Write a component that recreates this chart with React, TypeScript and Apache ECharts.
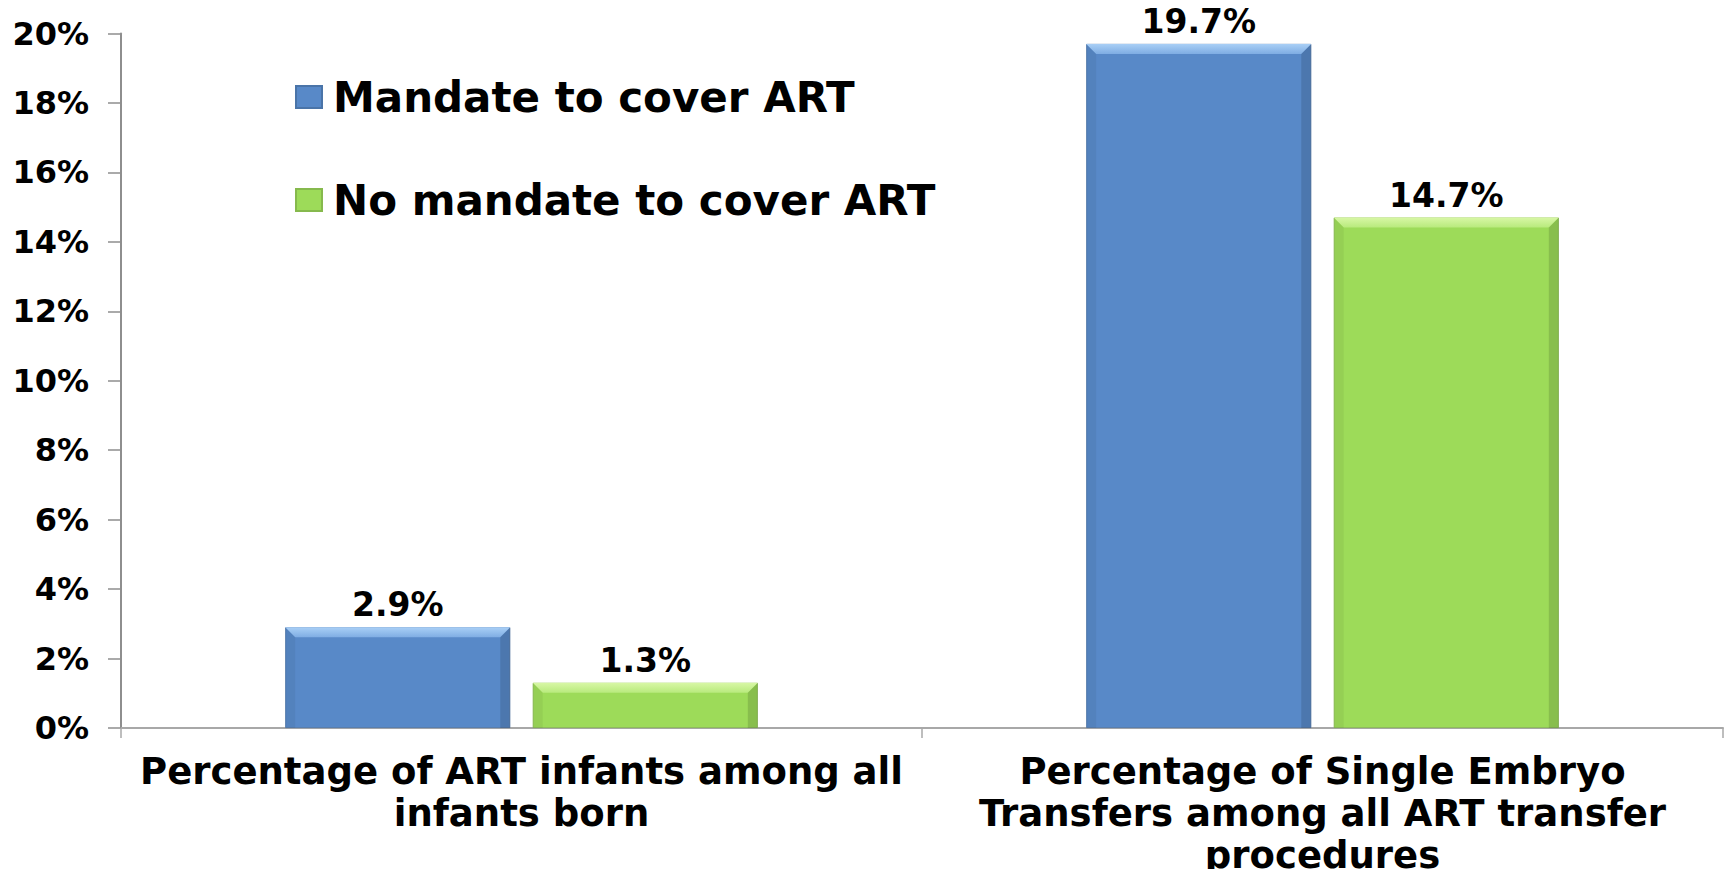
import React, { useEffect, useRef } from "react";
import * as echarts from "echarts";

const categories = [
  "Percentage of ART infants among all\ninfants born",
  "Percentage of Single Embryo\nTransfers among all ART transfer\nprocedures",
];
const seriesNames = ["Mandate to cover ART", "No mandate to cover ART"];
const mandateValues = [2.9, 19.7];
const noMandateValues = [1.3, 14.7];
const yTicks = [0, 2, 4, 6, 8, 10, 12, 14, 16, 18, 20];

const FONT = "'DejaVu Sans', sans-serif";
const CAT_GAP = 0.41;
const BAR_GAP = 0.1;

const mainColors = ["#5889C8", "#9DDB59"];
const topColors = [
  ["#A9CFF6", "#7FADE3"],
  ["#D8F7A6", "#B8EA7C"],
];

export default function App() {
  const ref = useRef<HTMLDivElement>(null);

  useEffect(() => {
    if (!ref.current) return;
    const chart = echarts.init(ref.current, undefined, { renderer: "svg" });

    const bevelData: number[][] = [];
    mandateValues.forEach((v, i) => bevelData.push([i, v, 0]));
    noMandateValues.forEach((v, i) => bevelData.push([i, v, 1]));

    const labelStyle = {
      show: true,
      position: "top" as const,
      distance: 6,
      formatter: "{c}%",
      color: "#000",
      fontFamily: FONT,
      fontWeight: "bold" as const,
      fontSize: 33,
    };

    chart.setOption({
      animation: false,
      backgroundColor: "#ffffff",
      grid: {
        left: 121,
        right: 2,
        top: 33.5,
        bottom: 141,
        containLabel: false,
        outerBoundsMode: "none",
      },
      legend: {
        orient: "vertical",
        left: 295,
        top: 76,
        padding: 0,
        itemGap: 61,
        itemWidth: 26,
        itemHeight: 22,
        icon: "rect",
        data: seriesNames,
        textStyle: {
          fontFamily: FONT,
          fontWeight: "bold",
          fontSize: 42,
          color: "#000",
          padding: [0, 0, 0, 6],
        },
      },
      xAxis: {
        type: "category",
        data: categories,
        axisLine: { lineStyle: { color: "#a8a8a8", width: 2 } },
        axisTick: { show: true, length: 10, lineStyle: { color: "#a8a8a8", width: 1.5 } },
        axisLabel: {
          interval: 0,
          margin: 22,
          color: "#000",
          fontFamily: FONT,
          fontWeight: "bold",
          fontSize: 37,
          lineHeight: 42,
          align: "center",
        },
        splitLine: { show: false },
      },
      yAxis: {
        type: "value",
        min: yTicks[0],
        max: yTicks[yTicks.length - 1],
        interval: 2,
        axisLine: { show: true, lineStyle: { color: "#8e8e8e", width: 2 } },
        axisTick: { show: true, length: 13, lineStyle: { color: "#8e8e8e", width: 1.5 } },
        axisLabel: {
          margin: 32,
          formatter: "{value}%",
          color: "#000",
          fontFamily: FONT,
          fontWeight: "bold",
          fontSize: 32,
        },
        splitLine: { show: false },
      },
      series: [
        {
          name: seriesNames[0],
          type: "bar",
          data: mandateValues,
          barCategoryGap: "41%",
          barGap: "10%",
          itemStyle: {
            color: mainColors[0],
            borderColor: "#4a74a8",
            borderWidth: 0.8,
          },
          label: labelStyle,
        },
        {
          name: seriesNames[1],
          type: "bar",
          data: noMandateValues,
          barCategoryGap: "41%",
          barGap: "10%",
          itemStyle: {
            color: mainColors[1],
            borderColor: "#86b94d",
            borderWidth: 0.8,
          },
          label: labelStyle,
        },
        {
          type: "custom",
          silent: true,
          z: 3,
          data: bevelData,
          encode: { x: 0, y: 1 },
          renderItem: (params: any, api: any) => {
            const cat = api.value(0);
            const val = api.value(1);
            const s = api.value(2);
            const band = api.size([1, 0])[0];
            const bw = (band * (1 - CAT_GAP)) / (2 + BAR_GAP);
            const base = api.coord([cat, 0]);
            const top = api.coord([cat, val]);
            const center = base[0];
            const x0 = center - (bw * (2 + BAR_GAP)) / 2 + s * bw * (1 + BAR_GAP);
            const x1 = x0 + bw;
            const yt = top[1];
            const yb = base[1];
            const b = Math.min(10, (yb - yt) / 3);
            return {
              type: "group",
              children: [
                {
                  type: "polygon",
                  shape: {
                    points: [
                      [x0, yt],
                      [x1, yt],
                      [x1 - b, yt + b],
                      [x0 + b, yt + b],
                    ],
                  },
                  style: {
                    fill: new echarts.graphic.LinearGradient(0, 0, 0, 1, [
                      { offset: 0, color: topColors[s][0] },
                      { offset: 1, color: topColors[s][1] },
                    ]),
                  },
                },
                {
                  type: "polygon",
                  shape: {
                    points: [
                      [x0, yt],
                      [x0 + b, yt + b],
                      [x0 + b, yb],
                      [x0, yb],
                    ],
                  },
                  style: { fill: "rgba(0,0,0,0.05)" },
                },
                {
                  type: "polygon",
                  shape: {
                    points: [
                      [x1, yt],
                      [x1 - b, yt + b],
                      [x1 - b, yb],
                      [x1, yb],
                    ],
                  },
                  style: { fill: "rgba(0,0,0,0.13)" },
                },
              ],
            };
          },
        },
      ],
    });

    return () => chart.dispose();
  }, []);

  return (
    <div
      ref={ref}
      style={{ position: "fixed", left: 0, top: 0, width: 1725, height: 869 }}
    />
  );
}
